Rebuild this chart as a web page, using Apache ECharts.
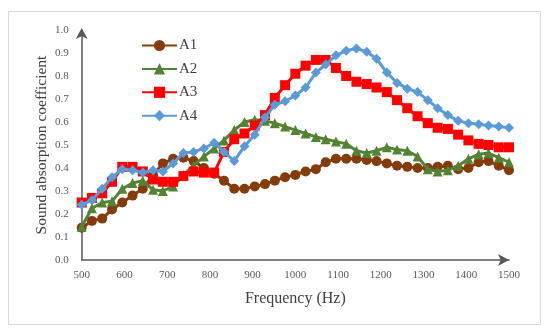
<!DOCTYPE html>
<html>
<head>
<meta charset="utf-8">
<script src="https://cdn.jsdelivr.net/npm/echarts@6/dist/echarts.min.js"></script>
<style>html,body{margin:0;padding:0;background:#fff;}#chart{width:550px;height:334px;}</style>
</head>
<body>
<div id="chart"></div>
<script>
const frequencies = [500,524,548,571,595,619,643,667,690,714,738,762,786,810,833,857,881,905,929,952,976,1000,1024,1048,1071,1095,1119,1143,1167,1190,1214,1238,1262,1286,1310,1333,1357,1381,1405,1429,1452,1476,1500];
const seriesNames = ['A1','A2','A3','A4'];
const A1 = [0.14,0.17,0.18,0.22,0.25,0.28,0.31,0.37,0.42,0.44,0.445,0.43,0.40,0.375,0.345,0.31,0.31,0.32,0.33,0.345,0.36,0.37,0.385,0.395,0.425,0.44,0.44,0.44,0.435,0.43,0.42,0.41,0.405,0.40,0.40,0.405,0.41,0.395,0.40,0.425,0.43,0.41,0.39];
const A2 = [0.145,0.225,0.25,0.255,0.31,0.335,0.345,0.305,0.30,0.32,0.37,0.41,0.45,0.485,0.52,0.565,0.60,0.61,0.605,0.595,0.58,0.565,0.55,0.535,0.525,0.515,0.505,0.475,0.465,0.475,0.49,0.48,0.475,0.45,0.395,0.385,0.39,0.41,0.44,0.46,0.465,0.445,0.425];
const A3 = [0.25,0.27,0.29,0.34,0.405,0.405,0.385,0.35,0.34,0.34,0.365,0.385,0.38,0.38,0.47,0.525,0.55,0.585,0.63,0.705,0.76,0.81,0.845,0.87,0.87,0.835,0.80,0.775,0.765,0.75,0.73,0.695,0.66,0.625,0.595,0.575,0.57,0.545,0.52,0.505,0.50,0.49,0.49];
const A4 = [0.24,0.26,0.31,0.36,0.395,0.39,0.38,0.39,0.385,0.42,0.465,0.47,0.485,0.51,0.47,0.43,0.495,0.545,0.62,0.675,0.69,0.715,0.75,0.815,0.85,0.89,0.91,0.92,0.905,0.875,0.815,0.77,0.745,0.73,0.695,0.66,0.63,0.605,0.595,0.59,0.585,0.58,0.575];
const xTicks = [500,600,700,800,900,1000,1100,1200,1300,1400,1500];
const yTicks = [0.0,0.1,0.2,0.3,0.4,0.5,0.6,0.7,0.8,0.9,1.0];

const colors = ['#843C0C','#548235','#FF0000','#5B9BD5'];
const symbols = ['circle','triangle','rect','diamond'];
const sizes = [10,10,10,10];
const values = [A1,A2,A3,A4];

const chart = echarts.init(document.getElementById('chart'));
const serif = '"Liberation Serif","Times New Roman",serif';
chart.setOption({
  animation:false,
  backgroundColor:'#fff',
  graphic:[{type:'rect',shape:{x:8.5,y:11.5,width:532,height:313},style:{fill:'none',stroke:'#d9d9d9',lineWidth:1}}],
  grid:{left:81.7,right:41,top:30,bottom:74,containLabel:false},
  legend:{
    orient:'vertical',left:136,top:33,itemWidth:35,itemHeight:14,itemGap:8.4,
    data:seriesNames,
    textStyle:{fontFamily:serif,fontSize:15,color:'#404040',padding:[0,0,0,-3]}
  },
  xAxis:{
    type:'value',min:500,max:1500,interval:100,
    name:'Frequency (Hz)',nameLocation:'middle',nameGap:31,nameMoveOverlap:false,
    nameTextStyle:{fontFamily:serif,fontSize:16,color:'#404040'},
    axisLine:{lineStyle:{color:'#595959',width:1.5},symbol:['none','arrow'],symbolSize:[9,11]},
    axisTick:{show:false},
    axisLabel:{fontFamily:serif,fontSize:11,color:'#595959',margin:10,
      formatter:v=>xTicks.indexOf(v)>=0?String(v):''},
    splitLine:{show:false}
  },
  yAxis:{
    type:'value',min:0,max:1,interval:0.1,
    name:'Sound absorption coefficient',nameLocation:'middle',nameGap:32,nameRotate:90,nameMoveOverlap:false,
    nameTextStyle:{fontFamily:serif,fontSize:15.5,color:'#404040'},
    axisLine:{show:true,lineStyle:{color:'#595959',width:1.5},symbol:['none','arrow'],symbolSize:[9,11],symbolOffset:[0,2]},
    axisTick:{show:false},
    axisLabel:{fontFamily:serif,fontSize:11,color:'#595959',margin:13,
      formatter:v=>{const t=yTicks.find(y=>Math.abs(y-v)<1e-6);return t===undefined?'':t.toFixed(1);}},
    splitLine:{show:false}
  },
  series: seriesNames.map((n,k)=>({
    name:n,type:'line',
    data:frequencies.map((f,i)=>[f,values[k][i]]),
    symbol:symbols[k],symbolSize:sizes[k],showAllSymbol:true,
    lineStyle:{color:colors[k],width:3},
    itemStyle:{color:colors[k],borderWidth:0},
    z:2+k
  }))
});
</script>
</body>
</html>
